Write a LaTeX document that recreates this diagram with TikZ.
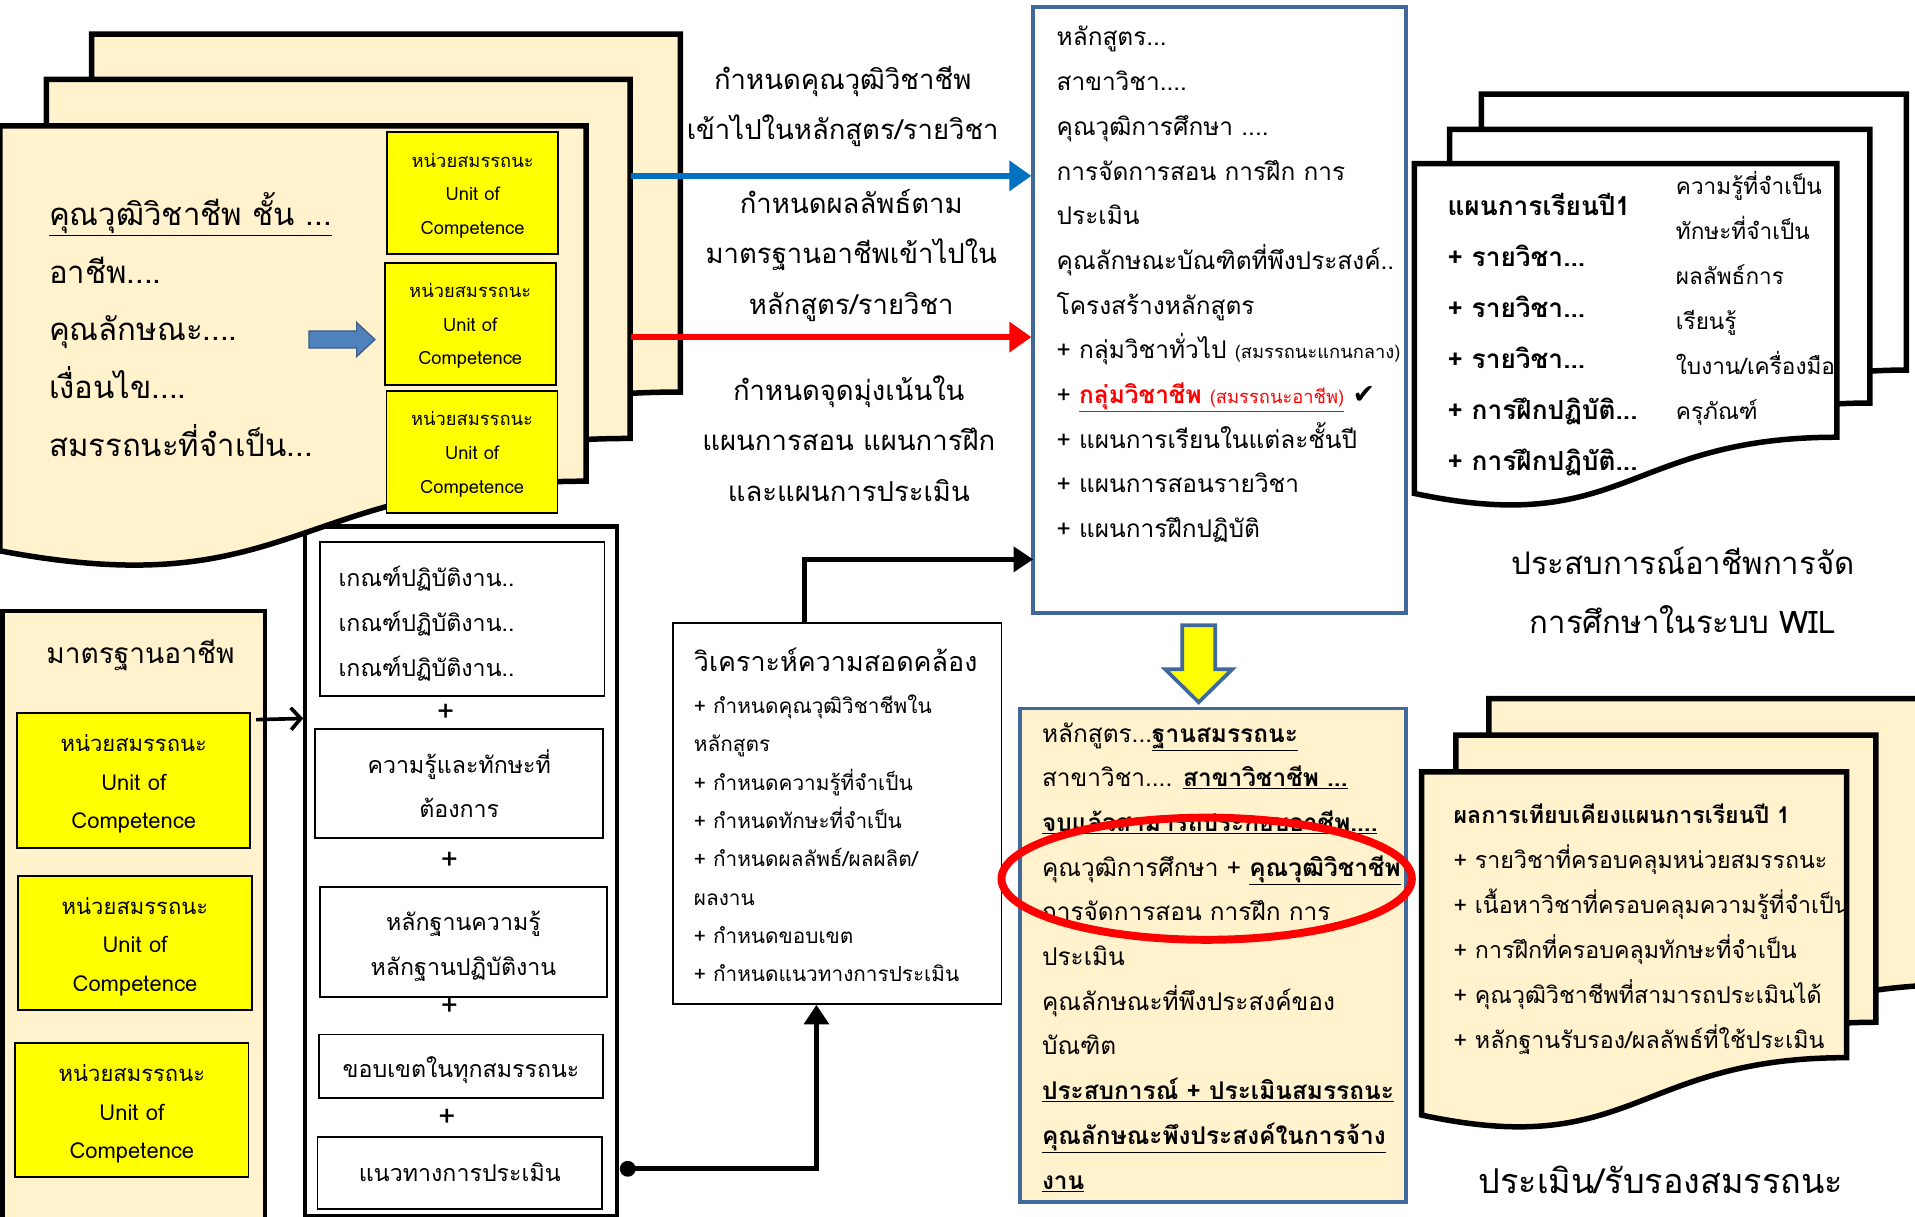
\documentclass[tikz,border=0pt]{standalone}
\usepackage{fontspec}
\setmainfont{Loma}[Script=Thai]
\newfontfamily\djv{DejaVu Sans}
\usetikzlibrary{arrows.meta}
\definecolor{cream}{HTML}{FFF2CC}
\definecolor{bbord}{HTML}{41689A}
\definecolor{yel}{HTML}{FFFF00}
\definecolor{arrblue}{HTML}{0070C0}
\definecolor{blockblue}{HTML}{4F81BD}
\definecolor{blockedge}{HTML}{385D8A}
\newcommand\fs[2]{\fontsize{#1pt}{#2pt}\selectfont}
% document shape: x0 y0 x1 yr yl fill
\newcommand\mydoc[6]{%
  \filldraw[docline, fill=#6] (#1,#2) -- (#3,#2) -- (#3,#4)
    .. controls ({(#1+#3)/2},#4) and ({(#1+#3)/2},{#5+0.8*(#5-#4)}) .. (#1,#5) -- cycle;}
% text line: name, font, x, y, text
\newcommand\tl[5]{\node[anchor=mid west, inner sep=0pt, font=#2] (#1) at (#3,#4) {#5};}
\newcommand\tcn[5]{\node[anchor=mid, inner sep=0pt, font=#2] (#1) at (#3,#4) {#5};}
\begin{document}
\begin{tikzpicture}[x=1pt,y=-1pt,
  docline/.style={line width=4.5pt, line join=miter},
  ybox/.style={draw=black, line width=1.5pt, fill=yel, inner sep=0pt},
  wbox/.style={draw=black, line width=1.5pt, fill=white, inner sep=0pt},
  ytext/.style={align=center, inner sep=0pt},
  flow/.style={line width=5pt, -{Triangle[length=18pt,width=24pt]}},
  blk/.style={line width=4pt, -{Triangle[length=16pt,width=20pt]}},
]
\useasboundingbox (0,0) rectangle (1568,996);
\clip (0,0) rectangle (1568,996);

% ---------- bottom-left standard box ----------
\node[draw, line width=3.5pt, fill=cream, minimum width=215pt, minimum height=520pt] (std) at (109.5,760) {};
\tcn{stdt}{\fs{23}{28}}{115}{541}{มาตรฐานอาชีพ}
\node[ybox, minimum width=191pt, minimum height=110pt] (y1) at (109.5,639) {};
\node[ybox, minimum width=191pt, minimum height=110pt] (y2) at (110.5,772) {};
\node[ybox, minimum width=191pt, minimum height=110pt] (y3) at (108,909) {};
\node[ytext, font=\fs{18}{31.5}] (y1t) at (109.5,642) {หน่วยสมรรถนะ\\Unit of\\Competence};
\node[ytext, font=\fs{18}{31.5}] (y2t) at (110.5,775) {หน่วยสมรรถนะ\\Unit of\\Competence};
\node[ytext, font=\fs{18}{31.5}] (y3t) at (108,912) {หน่วยสมรรถนะ\\Unit of\\Competence};

% ---------- middle-left column ----------
\node[draw, line width=3.5pt, fill=white, minimum width=255pt, minimum height=565pt] (col) at (377.5,713.5) {};
\node[wbox, minimum width=233pt, minimum height=126pt] (ca) at (378.5,507) {};
\node[wbox, minimum width=236pt, minimum height=89pt] (cb) at (376,641.5) {};
\node[wbox, minimum width=235pt, minimum height=90pt] (cc) at (379.5,771) {};
\node[wbox, minimum width=233pt, minimum height=52pt] (cd) at (377.5,873) {};
\node[wbox, minimum width=233pt, minimum height=59pt] (ce) at (376.5,960.5) {};
\tl{ca1}{\fs{19}{24}}{277}{477.5}{เกณฑ์ปฏิบัติงาน..}
\tl{ca2}{\fs{19}{24}}{277}{514.5}{เกณฑ์ปฏิบัติงาน..}
\tl{ca3}{\fs{19}{24}}{277}{551.5}{เกณฑ์ปฏิบัติงาน..}
\tcn{cb1}{\fs{19}{24}}{376}{630.5}{ความรู้และทักษะที่}
\tcn{cb2}{\fs{19}{24}}{376}{666.5}{ต้องการ}
\tcn{cc1}{\fs{19}{24}}{379.5}{759.5}{หลักฐานความรู้}
\tcn{cc2}{\fs{19}{24}}{379.5}{796.5}{หลักฐานปฏิบัติงาน}
\tcn{cd1}{\fs{19}{24}}{377.5}{879.5}{ขอบเขตในทุกสมรรถนะ}
\tcn{ce1}{\fs{19}{24}}{376.5}{964.5}{แนวทางการประเมิน}
\tcn{p1}{\fs{24}{24}}{365}{588}{+}
\tcn{p2}{\fs{24}{24}}{368}{709}{+}
\tcn{p3}{\fs{24}{24}}{368}{829}{+}
\tcn{p4}{\fs{24}{24}}{366}{920}{+}
\draw[line width=3pt, -{Straight Barb[length=8pt,width=18pt]}] ([shift={(4,6)}]y1.north east) -- ([yshift=-159pt]col.north west);

% ---------- top-left document stack ----------
\mydoc{75}{28}{557}{321}{378}{cream}
\mydoc{38}{65}{516}{359}{416}{cream}
\mydoc{0}{103}{480}{394}{451}{cream}
\node[ybox, minimum width=140pt, minimum height=100pt] (u1) at (387,158) {};
\node[ybox, minimum width=140pt, minimum height=100pt] (u2) at (385,265) {};
\node[ybox, minimum width=140pt, minimum height=100pt] (u3) at (386.5,370) {};
\node[ytext, font=\fs{15}{27.5}] (u1t) at (387,160) {หน่วยสมรรถนะ\\Unit of\\Competence};
\node[ytext, font=\fs{15}{27.5}] (u2t) at (385,267) {หน่วยสมรรถนะ\\Unit of\\Competence};
\node[ytext, font=\fs{15}{27.5}] (u3t) at (386.5,372) {หน่วยสมรรถนะ\\Unit of\\Competence};
\filldraw[fill=blockblue, draw=blockedge, line width=1pt] (253,271) -- (292,271) -- (292,264) -- (307,278) -- (292,292) -- (292,285) -- (253,285) -- cycle;
\tl{lt0}{\fs{25.5}{30}}{40}{182}{\underline{คุณวุฒิวิชาชีพ ชั้น ...}}
\tl{lt1}{\fs{25.5}{30}}{40}{229.2}{อาชีพ....}
\tl{lt2}{\fs{25.5}{30}}{40}{276.4}{คุณลักษณะ....}
\tl{lt3}{\fs{25.5}{30}}{40}{323.6}{เงื่อนไข....}
\tl{lt4}{\fs{25.5}{30}}{40}{370.8}{สมรรถนะที่จำเป็น...}

% ---------- middle labels ----------
\tcn{m1}{\fs{22.5}{28}}{690}{71}{กำหนดคุณวุฒิวิชาชีพ}
\tcn{m2}{\fs{22.5}{28}}{690}{112}{เข้าไปในหลักสูตร/รายวิชา}
\tcn{m3}{\fs{22.5}{28}}{697}{172}{กำหนดผลลัพธ์ตาม}
\tcn{m4}{\fs{22.5}{28}}{697}{213}{มาตรฐานอาชีพเข้าไปใน}
\tcn{m5}{\fs{22.5}{28}}{697}{255}{หลักสูตร/รายวิชา}
\tcn{m6}{\fs{22.5}{28}}{695}{325}{กำหนดจุดมุ่งเน้นใน}
\tcn{m7}{\fs{22.5}{28}}{695}{366}{แผนการสอน แผนการฝึก}
\tcn{m8}{\fs{22.5}{28}}{695}{408}{และแผนการประเมิน}

% ---------- top-middle box ----------
\node[draw=bbord, line width=3pt, fill=white, minimum width=305pt, minimum height=496pt] (tm) at (998.5,254) {};
\tl{tmt0}{\fs{20}{24}}{865}{35}{หลักสูตร...}
\tl{tmt1}{\fs{20}{24}}{865}{71.6}{สาขาวิชา....}
\tl{tmt2}{\fs{20}{24}}{865}{108.2}{คุณวุฒิการศึกษา ....}
\tl{tmt3}{\fs{20}{24}}{865}{144.8}{การจัดการสอน การฝึก การ}
\tl{tmt4}{\fs{20}{24}}{865}{181.4}{ประเมิน}
\tl{tmt5}{\fs{20}{24}}{865}{218}{คุณลักษณะบัณฑิตที่พึงประสงค์..}
\tl{tmt6}{\fs{20}{24}}{865}{254.6}{โครงสร้างหลักสูตร}
\tl{tmt7}{\fs{20}{24}}{865}{291.2}{+ กลุ่มวิชาทั่วไป {\fs{15}{16}(สมรรถนะแกนกลาง)}}
\tl{tmt8}{\fs{20}{24}}{865}{327.8}{+ \textcolor{red}{\underline{\bfseries กลุ่มวิชาชีพ {\mdseries\fs{15}{16}(สมรรถนะอาชีพ)}}} {\djv\fs{22}{22}✔}}
\tl{tmt9}{\fs{20}{24}}{865}{364.4}{+ แผนการเรียนในแต่ละชั้นปี}
\tl{tmt10}{\fs{20}{24}}{865}{401}{+ แผนการสอนรายวิชา}
\tl{tmt11}{\fs{20}{24}}{865}{437.6}{+ แผนการฝึกปฏิบัติ}

\draw[flow, arrblue] (517,144) -- ([yshift=110pt]tm.west);
\draw[flow, red] (517,276) -- ([yshift=-22pt]tm.west);

% ---------- analysis box ----------
\node[draw, line width=1.5pt, fill=white, minimum width=269pt, minimum height=312pt] (ana) at (685.5,666) {};
\tl{anat}{\fs{22}{28}}{568}{547}{วิเคราะห์ความสอดคล้อง}
\tl{an0}{\fs{17}{20}}{568}{581.5}{+ กำหนดคุณวุฒิวิชาชีพใน}
\tl{an1}{\fs{17}{20}}{568}{612.9}{หลักสูตร}
\tl{an2}{\fs{17}{20}}{568}{644.3}{+ กำหนดความรู้ที่จำเป็น}
\tl{an3}{\fs{17}{20}}{568}{675.7}{+ กำหนดทักษะที่จำเป็น}
\tl{an4}{\fs{17}{20}}{568}{707.1}{+ กำหนดผลลัพธ์/ผลผลิต/}
\tl{an5}{\fs{17}{20}}{568}{738.5}{ผลงาน}
\tl{an6}{\fs{17}{20}}{568}{769.9}{+ กำหนดขอบเขต}
\tl{an7}{\fs{17}{20}}{568}{801.3}{+ กำหนดแนวทางการประเมิน}

\coordinate (tmin) at (846,458);
\draw[blk] ([xshift=-26.5pt]ana.north) |- (tmin);
\coordinate (dot) at (514,957);
\fill (dot) circle (6.5);
\draw[blk] (dot) -| ([xshift=-17pt]ana.south);

% ---------- yellow down arrow ----------
\filldraw[fill=yel, draw=bbord, line width=3pt, line join=miter] (968,512) -- (995,512) -- (995,548) -- (1009,548) -- (981.5,575) -- (954,548) -- (968,548) -- cycle;

% ---------- bottom-middle box ----------
\node[draw=bbord, line width=3pt, fill=cream, minimum width=316pt, minimum height=404pt] (bm) at (993,782) {};
\tl{bm0}{\fs{20}{24}}{853}{605}{หลักสูตร...\underline{\bfseries ฐานสมรรถนะ}}
\tl{bm1}{\fs{20}{24}}{853}{641.6}{สาขาวิชา.... \underline{\bfseries สาขาวิชาชีพ ...}}
\tl{bm2}{\fs{20}{24}}{853}{678.2}{\underline{\bfseries จบแล้วสามารถประกอบอาชีพ....}}
\tl{bm3}{\fs{20}{24}}{853}{714.8}{คุณวุฒิการศึกษา + \underline{\bfseries คุณวุฒิวิชาชีพ}}
\tl{bm4}{\fs{20}{24}}{853}{751.4}{การจัดการสอน การฝึก การ}
\tl{bm5}{\fs{20}{24}}{853}{788}{ประเมิน}
\tl{bm6}{\fs{20}{24}}{853}{824.6}{คุณลักษณะที่พึงประสงค์ของ}
\tl{bm7}{\fs{20}{24}}{853}{861.2}{บัณฑิต}
\tl{bm8}{\fs{20}{24}}{853}{897.8}{\underline{\bfseries ประสบการณ์ + ประเมินสมรรถนะ}}
\tl{bm9}{\fs{20}{24}}{853}{934.4}{\underline{\bfseries คุณลักษณะพึงประสงค์ในการจ้าง}}
\tl{bm10}{\fs{20}{24}}{853}{971}{\underline{\bfseries งาน}}
\draw[red, line width=6.5pt] (988,719.5) ellipse [x radius=168, y radius=50];

% ---------- top-right stack ----------
\mydoc{1213}{77}{1561}{303}{349}{white}
\mydoc{1187}{106}{1531}{330}{376}{white}
\mydoc{1158}{134}{1504}{358}{404}{white}
\tl{trl0}{\fs{21.5}{24}\bfseries}{1185}{174}{แผนการเรียนปี1}
\tl{trl1}{\fs{21.5}{24}\bfseries}{1185}{215.8}{+ รายวิชา...}
\tl{trl2}{\fs{21.5}{24}\bfseries}{1185}{257.6}{+ รายวิชา...}
\tl{trl3}{\fs{21.5}{24}\bfseries}{1185}{299.4}{+ รายวิชา...}
\tl{trl4}{\fs{21.5}{24}\bfseries}{1185}{341.2}{+ การฝึกปฏิบัติ...}
\tl{trl5}{\fs{21.5}{24}\bfseries}{1185}{383}{+ การฝึกปฏิบัติ...}
\tl{trr0}{\fs{18.5}{22}}{1372}{157}{ความรู้ที่จำเป็น}
\tl{trr1}{\fs{18.5}{22}}{1372}{193.8}{ทักษะที่จำเป็น}
\tl{trr2}{\fs{18.5}{22}}{1372}{230.6}{ผลลัพธ์การ}
\tl{trr3}{\fs{18.5}{22}}{1372}{267.4}{เรียนรู้}
\tl{trr4}{\fs{18.5}{22}}{1372}{304.2}{ใบงาน/เครื่องมือ}
\tl{trr5}{\fs{18.5}{22}}{1372}{341}{ครุภัณฑ์}
\tcn{cap1}{\fs{25.5}{30}}{1378}{468}{ประสบการณ์อาชีพการจัด}
\tcn{cap2}{\fs{25.5}{30}}{1378}{516}{การศึกษาในระบบ WIL}

% ---------- bottom-right stack ----------
\mydoc{1219}{572}{1610}{806}{853}{cream}
\mydoc{1192}{602}{1536}{837}{884}{cream}
\mydoc{1164}{632}{1512}{866}{913}{cream}
\tl{brt}{\fs{19}{22}\bfseries}{1190}{672}{ผลการเทียบเคียงแผนการเรียนปี 1}
\tl{brl1}{\fs{19}{22}}{1190}{708.8}{+ รายวิชาที่ครอบคลุมหน่วยสมรรถนะ}
\tl{brl2}{\fs{19}{22}}{1190}{745.6}{+ เนื้อหาวิชาที่ครอบคลุมความรู้ที่จำเป็น}
\tl{brl3}{\fs{19}{22}}{1190}{782.4}{+ การฝึกที่ครอบคลุมทักษะที่จำเป็น}
\tl{brl4}{\fs{19}{22}}{1190}{819.2}{+ คุณวุฒิวิชาชีพที่สามารถประเมินได้}
\tl{brl5}{\fs{19}{22}}{1190}{856}{+ หลักฐานรับรอง/ผลลัพธ์ที่ใช้ประเมิน}
\tcn{cap3}{\fs{28}{32}}{1360}{975}{ประเมิน/รับรองสมรรถนะ}
\end{tikzpicture}
\end{document}
